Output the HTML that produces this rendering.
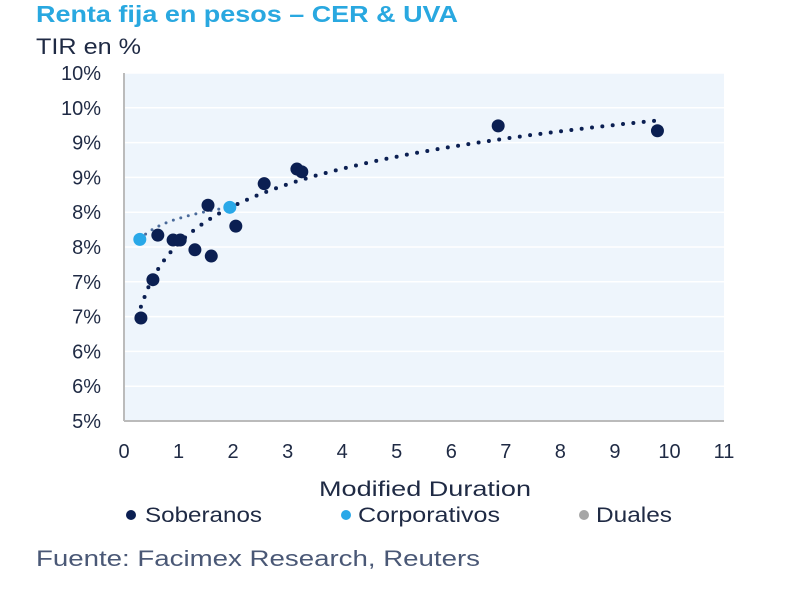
<!DOCTYPE html>
<html><head><meta charset="utf-8"><style>
body{margin:0;background:#fff;width:800px;height:610px;overflow:hidden;font-family:"Liberation Sans",sans-serif}
</style></head><body>
<svg width="800" height="610" font-family="Liberation Sans, sans-serif">
<text x="36" y="22" font-size="23" font-weight="bold" fill="#29a8e0" textLength="422" lengthAdjust="spacingAndGlyphs">Renta fija en pesos – CER &amp; UVA</text>
<text x="36" y="54" font-size="22" fill="#1f2a44" textLength="105" lengthAdjust="spacingAndGlyphs">TIR en %</text>
<rect x="124" y="73" width="600" height="348" fill="#eef5fc"/>
<g id="grid"></g>
<line x1="124" y1="73" x2="124" y2="421" stroke="#bbb" stroke-width="2"/>
<line x1="124" y1="421" x2="724" y2="421" stroke="#bbb" stroke-width="2"/>
<g id="yt"></g><g id="xt"></g><g id="trend"></g><g id="pts"></g>
<text x="319" y="496" font-size="21" fill="#1f2a44" textLength="212" lengthAdjust="spacingAndGlyphs">Modified Duration</text>
<g font-size="21" fill="#1f2a44">
<g><circle cx="131" cy="515" r="5" fill="#0b1f52"/><text x="145" y="522" textLength="117" lengthAdjust="spacingAndGlyphs">Soberanos</text></g>
<g><circle cx="346" cy="515" r="5" fill="#29a8e8"/><text x="358" y="522" textLength="142" lengthAdjust="spacingAndGlyphs">Corporativos</text></g>
<g><circle cx="584" cy="515" r="5" fill="#a6a6a6"/><text x="596" y="522" textLength="76" lengthAdjust="spacingAndGlyphs">Duales</text></g>
</g>
<text x="36" y="566" font-size="22" fill="#4a5876" textLength="444" lengthAdjust="spacingAndGlyphs">Fuente: Facimex Research, Reuters</text>
</svg>
<script>
const yTicks=[5,5.5,6,6.5,7,7.5,8,8.5,9,9.5,10];
const yTickLabels=["5%","6%","6%","7%","7%","8%","8%","9%","9%","10%","10%"];
const xTicks=[0,1,2,3,4,5,6,7,8,9,10,11];
const soberanosX=[0.31,0.53,0.62,0.9,1.03,1.3,1.54,1.6,2.05,2.57,3.17,3.26,6.86,9.78];
const soberanosY=[6.48,7.03,7.67,7.6,7.6,7.46,8.1,7.37,7.8,8.41,8.62,8.58,9.24,9.17];
const corporativosX=[0.29,1.94];
const corporativosY=[7.61,8.07];
const NS="http://www.w3.org/2000/svg";
const X=v=>124+v*600/11, Y=v=>421-(v-5)*348/5;
function mk(t,a,p){const e=document.createElementNS(NS,t);for(const k in a)e.setAttribute(k,a[k]);document.getElementById(p).appendChild(e);return e;}
yTicks.forEach((v,i)=>{
 const g=mk('line',{x1:125,x2:724,y1:Y(v),y2:Y(v),stroke:'#ffffff','stroke-width':1.5},'grid');
 
 
 const t=mk('text',{x:101,y:Y(v)+7,'font-size':20,fill:'#1f2a44','text-anchor':'end'},'yt');
 t.textContent=yTickLabels[i];
 
 
});
xTicks.forEach(v=>{
 const t=mk('text',{x:X(v),y:458,'font-size':20,fill:'#1f2a44','text-anchor':'middle'},'xt');
 t.textContent=v;
 
 
});
function logFit(xs,ys){const n=xs.length;let sx=0,sy=0,sxx=0,sxy=0;xs.forEach((x,i)=>{const l=Math.log(x);sx+=l;sy+=ys[i];sxx+=l*l;sxy+=l*ys[i];});const b=(n*sxy-sx*sy)/(n*sxx-sx*sx);return [(sy-b*sx)/n,b];}
function trend(xs,ys,col,w,name){
 const [a,b]=logFit(xs,ys);const x0=Math.min(...xs),x1=Math.max(...xs);let d='';
 for(let i=0;i<=80;i++){const x=x0+(x1-x0)*i/80;d+=(i?'L':'M')+X(x).toFixed(1)+','+Y(a+b*Math.log(x)).toFixed(1);}
 const p=mk('path',{d:d,fill:'none',stroke:col,'stroke-width':w,'stroke-dasharray':'0 '+(w*2.6),'stroke-linecap':'round'},'trend');
 
 
}
trend(soberanosX,soberanosY,'#0b1f52',4,'trendline-soberanos');
trend(corporativosX,corporativosY,'#4a6a9a',3,'trendline-corporativos');
soberanosX.forEach((x,i)=>{
 const c=mk('circle',{cx:X(x),cy:Y(soberanosY[i]),r:6.5,fill:'#0b1f52'},'pts');
 
 
});
corporativosX.forEach((x,i)=>{
 const c=mk('circle',{cx:X(x),cy:Y(corporativosY[i]),r:6.5,fill:'#29a8e8'},'pts');
 
 
});
</script>
</body></html>
